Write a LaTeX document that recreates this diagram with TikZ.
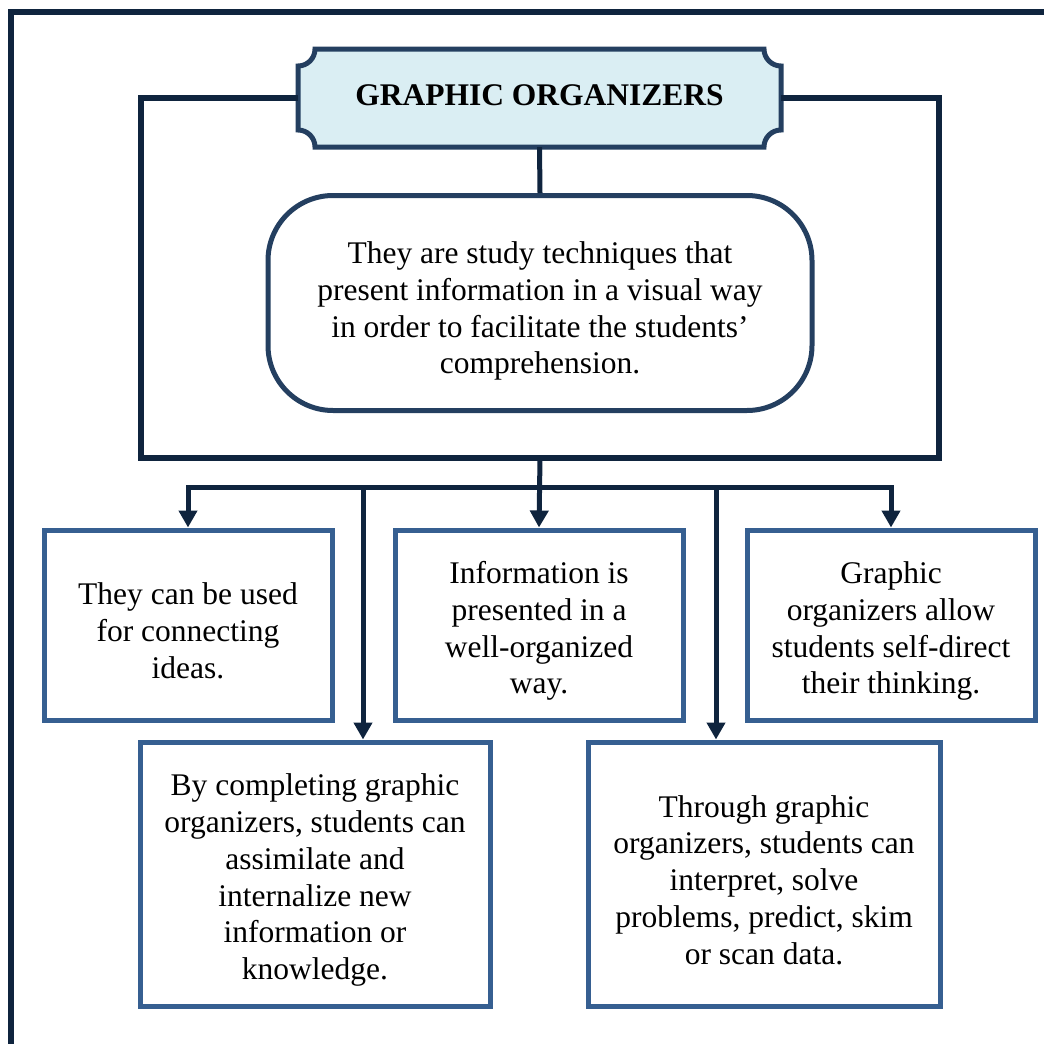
\documentclass[tikz,border=0pt]{standalone}
\usepackage{fontspec}
\setmainfont{Liberation Serif}
\usetikzlibrary{arrows.meta}

\definecolor{navy}{HTML}{0F243E}
\definecolor{deepblue}{HTML}{243F60}
\definecolor{boxblue}{HTML}{365F91}
\definecolor{paleaqua}{HTML}{DAEEF3}

% a strut on the first line sets the text block a little lower in its frame
\newcommand{\firstline}[1]{\rule{0pt}{#1}}
% a strut below the baseline lifts a single line a little
\newcommand{\liftline}[1]{\rule[-#1]{0pt}{#1}}

\tikzset{
  txt/.style={font=\fontsize{31.5}{36.8}\selectfont, align=center, inner sep=0pt},
  infobox/.style={txt, draw=boxblue, line width=5pt, minimum height=190pt},
  widebox/.style={txt, draw=boxblue, line width=5pt, minimum height=264pt},
  conn/.style={draw=navy, line width=5pt},
  tip/.style={-{Triangle[width=18pt,length=17pt]}},
}

\begin{document}
\begin{tikzpicture}[x=1pt,y=-1pt]
  \useasboundingbox (0,0) rectangle (1044,1044);

  % page frame (top and left edges)
  \draw[navy, line width=6pt] (11,1048) -- (11,12) -- (1048,12);

  % title plaque with scooped corners
  \filldraw[fill=paleaqua, draw=deepblue, line width=5pt]
    (315,49) -- (764,49)
    .. controls (764,58.4) and (771.6,66) .. (781,66) -- (781,130)
    .. controls (771.6,130) and (764,137.6) .. (764,147) -- (315,147)
    .. controls (315,137.6) and (307.4,130) .. (298,130) -- (298,66)
    .. controls (307.4,66) and (315,58.4) .. (315,49) -- cycle;
  \node[txt, font=\fontsize{31.5}{36.8}\selectfont\bfseries,
        minimum width=483pt, minimum height=98pt] (title) at (539.5,98)
    {GRAPHIC ORGANIZERS\liftline{6pt}};

  % definition
  \node[txt, draw=deepblue, line width=5pt, rounded corners=65pt,
        minimum width=544pt, minimum height=215pt] (desc) at (540,303)
    {\firstline{38pt}They are study techniques that\\present information in a visual way\\in order to facilitate the students’\\comprehension.};
  \draw[conn] (title.south) -- (desc.north);

  % enclosing frame hanging from the plaque
  \coordinate (frameBL) at (141,458);
  \coordinate (frameBR) at (939,458);
  \coordinate (stem) at (540,458);
  \draw[conn, line width=5.5pt] (title.west) -| (frameBL) -- (frameBR) |- (title.east);

  % characteristics, top row
  \node[infobox, minimum width=288pt] (c1) at (188,625)
    {\firstline{34pt}They can be used\\for connecting\\ideas.};
  \node[infobox, minimum width=288pt] (c3) at (539,625)
    {\firstline{34pt}Information is\\presented in a\\well-organized\\way.};
  \node[infobox, minimum width=288pt] (c5) at (891,625)
    {\firstline{34pt}Graphic\\organizers allow\\students self-direct\\their thinking.};

  % characteristics, bottom row
  \node[widebox, minimum width=350pt] (c2) at (315,874)
    {\firstline{34pt}By completing graphic\\organizers, students can\\assimilate and\\internalize new\\information or\\knowledge.};
  \node[widebox, minimum width=352pt] (c4) at (764,874)
    {\firstline{34pt}Through graphic\\organizers, students can\\interpret, solve\\problems, predict, skim\\or scan data.};

  % distribution bus
  \coordinate (busL) at (188,487);
  \coordinate (busR) at (891,487);
  \coordinate (drop2) at (363,487);
  \coordinate (drop4) at (716,487);
  \draw[conn, {Triangle[width=18pt,length=17pt]}-{Triangle[width=18pt,length=17pt]}]
    (c1.north) -- (busL) -- (busR) -- (c5.north);
  \draw[conn, tip] (stem) -- (c3.north);
  \draw[conn, tip] (drop2) -- (drop2 |- c2.north);
  \draw[conn, tip] (drop4) -- (drop4 |- c4.north);
\end{tikzpicture}
\end{document}
